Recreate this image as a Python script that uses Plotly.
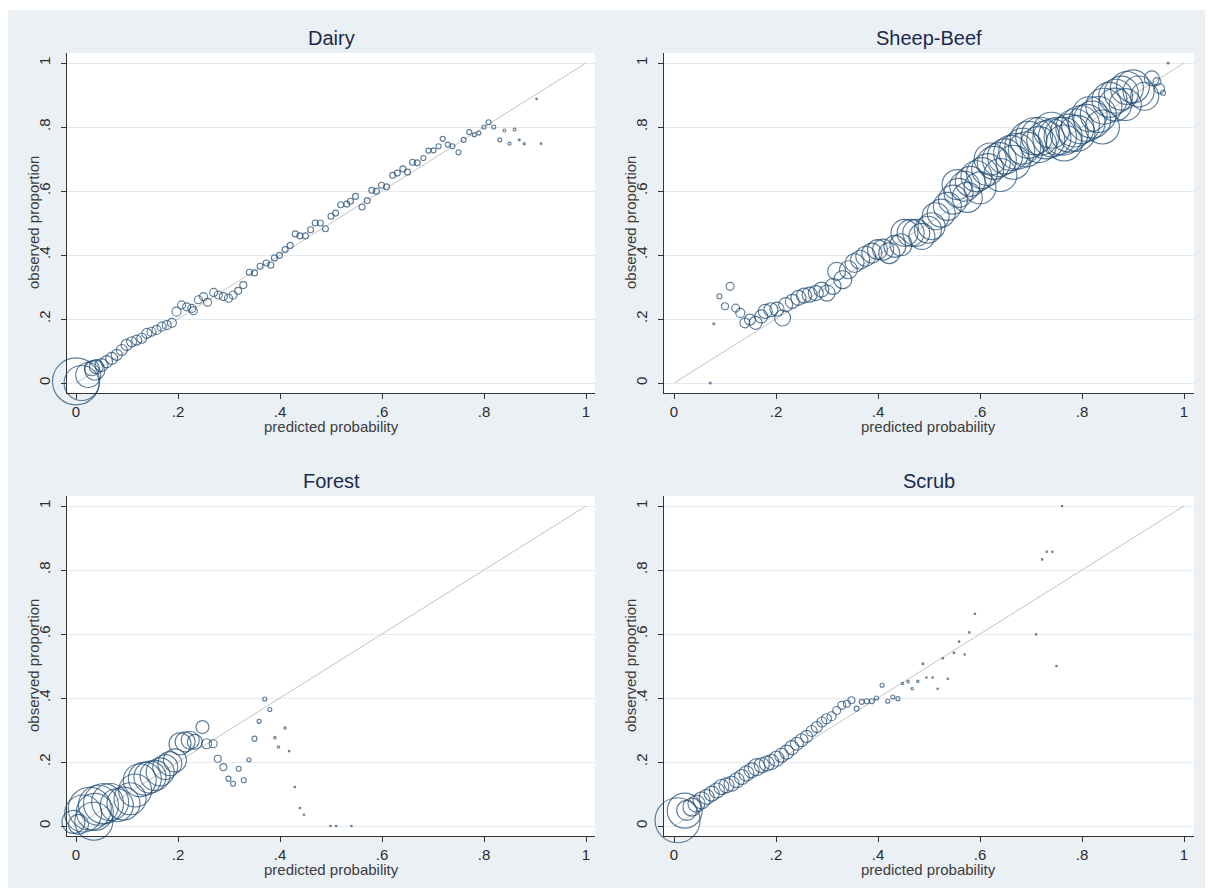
import plotly.graph_objects as go

# ---------------- data ----------------
tick_vals = [0, 0.2, 0.4, 0.6, 0.8, 1.0]
tick_text = ["0", ".2", ".4", ".6", ".8", "1"]
diag_x = [0, 1]
diag_y = [0, 1]

panel_titles = ["Dairy", "Sheep-Beef", "Forest", "Scrub"]
x_title = "predicted probability"
y_title = "observed proportion"

# Dairy: predicted probability, observed proportion, bubble weight (~sqrt of frequency)
dairy_x = [0.000, 0.011, 0.024, 0.037, 0.031, 0.040, 0.050, 0.060, 0.070, 0.080,
           0.090, 0.099, 0.109, 0.119, 0.129, 0.139, 0.148, 0.158, 0.168, 0.178,
           0.188, 0.197, 0.207, 0.217, 0.227, 0.230, 0.240, 0.250, 0.258, 0.270,
           0.279, 0.289, 0.299, 0.308, 0.318, 0.328,
           0.340, 0.350, 0.361, 0.373, 0.382, 0.389, 0.399, 0.410, 0.420, 0.430,
           0.439, 0.450, 0.460, 0.469, 0.479, 0.489, 0.500, 0.509, 0.519, 0.531,
           0.538, 0.548, 0.561, 0.571, 0.580, 0.589, 0.599, 0.609, 0.621, 0.630,
           0.641, 0.650, 0.660, 0.669, 0.681, 0.691, 0.701, 0.711, 0.719, 0.729,
           0.738, 0.750, 0.760, 0.771, 0.781, 0.790, 0.800, 0.809, 0.819, 0.831,
           0.840, 0.850, 0.860, 0.869, 0.879, 0.903, 0.912]
dairy_y = [0.005, 0.000, 0.025, 0.040, 0.046, 0.051, 0.056, 0.067, 0.077, 0.088,
           0.103, 0.119, 0.129, 0.134, 0.140, 0.155, 0.160, 0.166, 0.176, 0.181,
           0.188, 0.223, 0.244, 0.238, 0.233, 0.226, 0.260, 0.270, 0.252, 0.283,
           0.275, 0.270, 0.265, 0.275, 0.288, 0.306,
           0.346, 0.344, 0.365, 0.375, 0.368, 0.391, 0.399, 0.417, 0.430, 0.466,
           0.460, 0.460, 0.479, 0.500, 0.500, 0.482, 0.521, 0.531, 0.557, 0.559,
           0.568, 0.583, 0.550, 0.570, 0.602, 0.599, 0.618, 0.613, 0.649, 0.656,
           0.669, 0.659, 0.690, 0.688, 0.703, 0.726, 0.727, 0.740, 0.763, 0.745,
           0.740, 0.721, 0.760, 0.784, 0.776, 0.781, 0.800, 0.815, 0.800, 0.760,
           0.789, 0.748, 0.792, 0.760, 0.748, 0.888, 0.748]
dairy_w = [47, 35, 25, 20, 15, 14, 13, 12, 12, 11,
           11, 11, 10, 10, 10, 10, 9, 9, 9, 9,
           9, 9, 8, 8, 8, 8, 8, 8, 8, 8,
           8, 8, 8, 8, 7, 7,
           6, 6, 6, 6, 6, 6, 6, 6, 6, 6,
           6, 6, 6, 6, 6, 6, 6, 6, 6, 6,
           6, 6, 6, 6, 6, 6, 6, 6, 6, 6,
           6, 6, 6, 6, 5, 5, 5, 5, 5, 5,
           5, 5, 5, 5, 4, 4, 4, 5, 4, 4,
           3, 3, 3, 2, 2, 1.5, 1.5]

# Sheep-Beef
sheep_x = [0.071, 0.078, 0.089, 0.100, 0.110, 0.121, 0.130, 0.139, 0.149, 0.160,
           0.171, 0.179, 0.190, 0.202, 0.213, 0.219, 0.232, 0.244, 0.255, 0.266,
           0.278, 0.289, 0.300, 0.312, 0.319, 0.331, 0.342, 0.354, 0.365, 0.376,
           0.388, 0.399, 0.410, 0.422, 0.433, 0.445, 0.452, 0.464, 0.475, 0.486,
           0.498, 0.505, 0.513, 0.524, 0.536, 0.547, 0.558, 0.570, 0.581, 0.593,
           0.604, 0.615, 0.627, 0.638, 0.649, 0.661, 0.672, 0.684, 0.695, 0.706,
           0.718, 0.729, 0.741, 0.752, 0.763, 0.775, 0.786, 0.797, 0.809, 0.820,
           0.832, 0.843, 0.854, 0.866, 0.877, 0.888, 0.900, 0.911, 0.923, 0.937,
           0.947, 0.952, 0.959, 0.969,
           0.555, 0.575, 0.600, 0.620, 0.640, 0.665, 0.690, 0.715, 0.740, 0.765,
           0.790, 0.815, 0.840, 0.865, 0.885]
sheep_y = [0.000, 0.185, 0.271, 0.240, 0.302, 0.234, 0.219, 0.188, 0.198, 0.188,
           0.208, 0.224, 0.229, 0.231, 0.203, 0.245, 0.255, 0.266, 0.273, 0.276,
           0.281, 0.292, 0.281, 0.302, 0.349, 0.323, 0.354, 0.375, 0.385, 0.396,
           0.406, 0.417, 0.417, 0.406, 0.427, 0.432, 0.469, 0.469, 0.469, 0.458,
           0.479, 0.490, 0.521, 0.531, 0.552, 0.573, 0.594, 0.615, 0.630, 0.646,
           0.656, 0.667, 0.688, 0.698, 0.708, 0.719, 0.724, 0.740, 0.760, 0.771,
           0.771, 0.760, 0.766, 0.771, 0.771, 0.781, 0.797, 0.807, 0.813, 0.823,
           0.839, 0.865, 0.885, 0.896, 0.906, 0.922, 0.927, 0.911, 0.896, 0.952,
           0.942, 0.920, 0.907, 1.000,
           0.620, 0.580, 0.610, 0.700, 0.650, 0.690, 0.730, 0.745, 0.790, 0.750,
           0.780, 0.840, 0.800, 0.870, 0.870]
sheep_w = [2, 2, 5, 7, 8, 8, 9, 10, 11, 13,
           13, 14, 14, 14, 16, 14, 14, 15, 15, 15,
           15, 15, 16, 16, 18, 18, 18, 19, 19, 20,
           20, 20, 21, 21, 22, 22, 27, 27, 27, 26,
           27, 27, 27, 28, 28, 29, 29, 30, 30, 31,
           31, 32, 33, 34, 35, 35, 36, 36, 37, 37,
           38, 38, 38, 38, 38, 38, 38, 38, 37, 37,
           36, 36, 35, 34, 34, 33, 33, 31, 28, 15,
           8, 10, 5, 2,
           30, 30, 32, 32, 33, 34, 35, 36, 36, 36,
           36, 35, 34, 33, 32]

# Forest
forest_x = [-0.005, 0.005, 0.014, 0.027, 0.035, 0.037, 0.044, 0.054, 0.067, 0.080,
            0.093, 0.106, 0.116, 0.125, 0.135, 0.145, 0.155, 0.165, 0.175, 0.184,
            0.194, 0.204, 0.214, 0.224, 0.233, 0.248, 0.256, 0.269, 0.278, 0.289,
            0.299, 0.308, 0.319, 0.329, 0.339, 0.350, 0.359, 0.370, 0.380, 0.390,
            0.397, 0.410, 0.418, 0.429, 0.439, 0.447, 0.499, 0.510, 0.540]
forest_y = [0.013, 0.005, 0.039, 0.054, 0.015, 0.044, 0.065, 0.070, 0.075, 0.065,
            0.070, 0.085, 0.111, 0.143, 0.148, 0.153, 0.158, 0.169, 0.184, 0.195,
            0.205, 0.257, 0.263, 0.268, 0.263, 0.309, 0.257, 0.257, 0.210, 0.184,
            0.148, 0.132, 0.179, 0.143, 0.207, 0.273, 0.327, 0.397, 0.364, 0.276,
            0.247, 0.306, 0.234, 0.122, 0.056, 0.035, 0.000, 0.000, 0.000]
forest_w = [23, 20, 37, 43, 38, 37, 40, 40, 37, 33,
            33, 32, 33, 33, 33, 32, 30, 28, 25, 24,
            23, 22, 20, 18, 15, 13, 10, 8, 7, 7,
            5, 5, 5, 5, 4, 5, 4, 4, 4, 2.5,
            2.5, 2.5, 1.5, 1.5, 1.5, 1.5, 1.5, 1.5, 1.5]

# Scrub
scrub_x = [0.007, 0.021, 0.025, 0.035, 0.044, 0.054, 0.064, 0.074, 0.084, 0.093,
           0.103, 0.113, 0.123, 0.133, 0.142, 0.152, 0.162, 0.172, 0.182, 0.191,
           0.201, 0.211, 0.221, 0.231, 0.241, 0.250, 0.260, 0.270, 0.280, 0.290,
           0.299, 0.309, 0.319, 0.329, 0.339, 0.348, 0.358, 0.368, 0.378, 0.388,
           0.397, 0.408, 0.419, 0.429, 0.439, 0.448, 0.459, 0.467, 0.478, 0.488,
           0.495, 0.507, 0.517, 0.527, 0.537, 0.549, 0.559, 0.570, 0.579, 0.590,
           0.710, 0.722, 0.731, 0.742, 0.750, 0.761]
scrub_y = [0.018, 0.048, 0.049, 0.059, 0.070, 0.080, 0.091, 0.101, 0.111, 0.122,
           0.127, 0.132, 0.143, 0.153, 0.164, 0.174, 0.184, 0.190, 0.195, 0.200,
           0.210, 0.221, 0.231, 0.245, 0.257, 0.268, 0.280, 0.297, 0.309, 0.325,
           0.335, 0.343, 0.361, 0.377, 0.382, 0.393, 0.367, 0.388, 0.390, 0.390,
           0.400, 0.440, 0.390, 0.403, 0.398, 0.445, 0.451, 0.429, 0.452, 0.507,
           0.464, 0.464, 0.429, 0.524, 0.460, 0.541, 0.576, 0.536, 0.605, 0.663,
           0.599, 0.833, 0.857, 0.857, 0.500, 1.000]
scrub_w = [45, 35, 20, 18, 17, 17, 15, 15, 15, 15,
           15, 15, 15, 15, 15, 15, 17, 15, 15, 15,
           15, 14, 14, 14, 13, 13, 12, 11, 11, 10,
           10, 9, 8, 8, 7, 7, 5, 5, 5, 5,
           4, 4, 4, 4, 4, 2.5, 2.5, 2.5, 2.5, 2,
           1.5, 1.5, 1.5, 1.5, 1.5, 1.5, 1.5, 1.5, 1.5, 1.5,
           1.5, 1.5, 1.5, 1.5, 1.5, 1.5]

series = [(dairy_x, dairy_y, dairy_w), (sheep_x, sheep_y, sheep_w),
          (forest_x, forest_y, forest_w), (scrub_x, scrub_y, scrub_w)]
for sx_, sy_, sw_ in series:
    assert len(sx_) == len(sy_) == len(sw_)

# ---------------- styling / layout ----------------
# the page body adds an 8px margin, so the figure is drawn 8px in from the window corner
OFF = 8
W, H = 1213 - OFF, 888 - OFF
NAVY = "#1a476f"
BG = "#ebf0f5"
GRID = "#e4eaef"
AXC = "#333333"
FONT = "Liberation Sans, Arial, Helvetica, sans-serif"

# window-pixel geometry: plot box (left, right, top, bottom) and tick positions for 0 and 1
geom_win = [
    dict(l=67, r=595, t=53, b=393, x0=76, x1=586, y0=383, y1=63),
    dict(l=664, r=1194, t=53, b=393, x0=674, x1=1184, y0=383, y1=63),
    dict(l=67, r=595, t=496, b=836, x0=76, x1=586, y0=826, y1=506),
    dict(l=664, r=1194, t=496, b=836, x0=674, x1=1184, y0=826, y1=506),
]
geom = [{k: v - OFF for k, v in g.items()} for g in geom_win]

fig = go.Figure()
layout = {}
annotations = []
for i, ((xs, ys, ws), g, title) in enumerate(zip(series, geom, panel_titles), start=1):
    sfx = "" if i == 1 else str(i)
    xa, ya = "x" + sfx, "y" + sfx
    fig.add_trace(go.Scatter(x=diag_x, y=diag_y, mode="lines",
                             line=dict(color="#c4c4c4", width=1),
                             xaxis=xa, yaxis=ya, hoverinfo="skip", showlegend=False))
    fig.add_trace(go.Scatter(x=xs, y=ys, mode="markers", cliponaxis=False,
                             marker=dict(symbol="circle-open", size=ws, color=NAVY,
                                         line=dict(width=1.15, color=NAVY)),
                             xaxis=xa, yaxis=ya, showlegend=False))
    sx = (g["x1"] - g["x0"])
    sy = (g["y0"] - g["y1"])
    xr = [(g["l"] - g["x0"]) / sx, (g["r"] - g["x0"]) / sx]
    yr = [(g["y0"] - g["b"]) / sy, (g["y0"] - g["t"]) / sy]
    common = dict(tickvals=tick_vals, ticktext=tick_text, zeroline=False,
                  showline=True, linecolor=AXC, linewidth=1, ticks="outside",
                  ticklen=5, tickcolor=AXC, tickwidth=1,
                  tickfont=dict(family=FONT, size=15, color="#2b2b2b"),
                  fixedrange=True)
    layout["xaxis" + sfx] = dict(domain=[g["l"] / W, g["r"] / W], range=xr, anchor=ya,
                                 showgrid=False, **common)
    layout["yaxis" + sfx] = dict(domain=[1 - g["b"] / H, 1 - g["t"] / H], range=yr, anchor=xa,
                                 showgrid=True, gridcolor=GRID, gridwidth=1, tickangle=-90,
                                 ticklabelstandoff=5, **common)
    cx = (g["l"] + g["r"]) / 2
    cy = (g["t"] + g["b"]) / 2
    annotations.append(dict(text=title, x=cx / W, y=1 - (g["t"] - 15) / H, xref="paper",
                            yref="paper", xanchor="center", yanchor="middle", showarrow=False,
                            font=dict(family=FONT, size=20, color="#1a2a4c")))
    annotations.append(dict(text=x_title, x=cx / W, y=1 - (g["b"] + 33) / H, xref="paper",
                            yref="paper", xanchor="center", yanchor="middle", showarrow=False,
                            font=dict(family=FONT, size=15, color="#3c3c3c")))
    annotations.append(dict(text=y_title, x=(g["l"] - 34) / W, y=1 - cy / H, xref="paper",
                            yref="paper", xanchor="center", yanchor="middle", showarrow=False,
                            textangle=-90, font=dict(family=FONT, size=15, color="#3c3c3c")))

shapes = [
    dict(type="rect", xref="paper", yref="paper", x0=0, x1=1, y0=1 - 2 / H, y1=1,
         fillcolor="white", line=dict(width=0), layer="below"),
]

fig.update_layout(width=W, height=H, margin=dict(l=0, r=0, t=0, b=0),
                  paper_bgcolor=BG, plot_bgcolor="white", showlegend=False,
                  annotations=annotations, shapes=shapes,
                  font=dict(family=FONT), **layout)
fig.write_html("out.html")
